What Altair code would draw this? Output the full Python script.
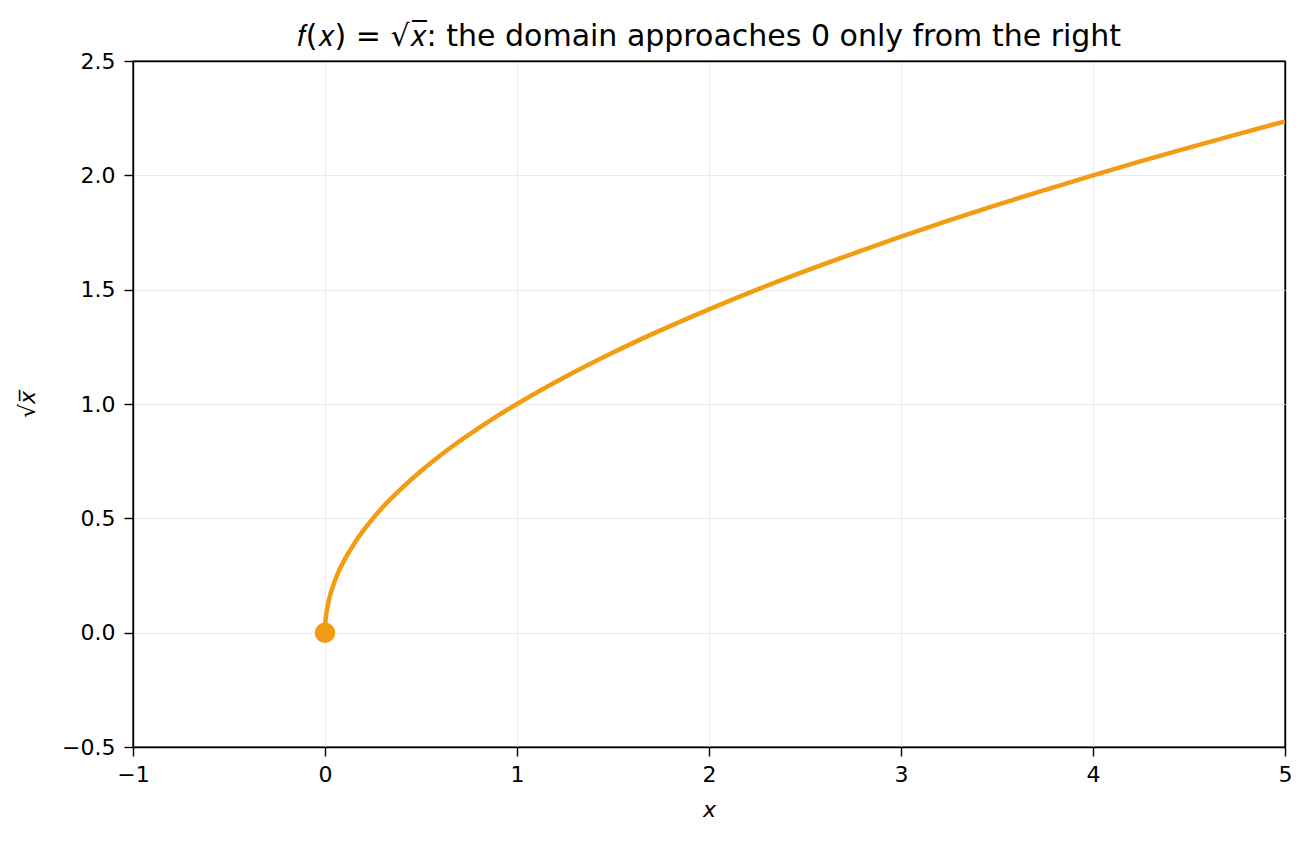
import altair as alt
import pandas as pd

xs = [0.0, 0.002, 0.005, 0.01, 0.02, 0.03, 0.05, 0.07, 0.1, 0.15, 0.2, 0.25, 0.3, 0.4, 0.5, 0.6, 0.7, 0.8, 0.9,
      1.0, 1.25, 1.5, 1.75, 2.0, 2.25, 2.5, 2.75, 3.0, 3.25, 3.5, 3.75, 4.0, 4.25, 4.5, 4.75, 5.0]
ys = [0.0, 0.045, 0.071, 0.1, 0.141, 0.173, 0.224, 0.265, 0.316, 0.387, 0.447, 0.5, 0.548, 0.632, 0.707, 0.775,
      0.837, 0.894, 0.949, 1.0, 1.118, 1.225, 1.323, 1.414, 1.5, 1.581, 1.658, 1.732, 1.803, 1.871, 1.936,
      2.0, 2.062, 2.121, 2.179, 2.236]
pt_x = [0.0]
pt_y = [0.0]

curve = pd.DataFrame({"x": xs, "y": ys})
pt = pd.DataFrame({"x": pt_x, "y": pt_y})

color = "#f39c12"
font = "DejaVu Sans"

xscale = alt.Scale(domain=[-1, 5], nice=False, zero=False)
yscale = alt.Scale(domain=[-0.5, 2.5], nice=False, zero=False)

xaxis = alt.Axis(
    title="x", titleFontStyle="italic", titleFontWeight="normal", titleFontSize=22, titleColor="black",
    values=[-1, 0, 1, 2, 3, 4, 5],
    labelExpr="datum.value < 0 ? '\u2212' + format(-datum.value, 'd') : format(datum.value, 'd')",
    labelFontSize=22, labelColor="black", labelPadding=8, labelFlush=False, labelOverlap=False,
    domainColor="black", tickColor="black", tickSize=9, tickWidth=1.4, domainWidth=1.4,
    gridColor={"condition": {"test": "datum.value >= 5", "value": "black"}, "value": "#e8e8e8"},
    gridWidth={"condition": {"test": "datum.value >= 5", "value": 1.4}, "value": 0.9},
    titlePadding=14,
)
yaxis = alt.Axis(
    title="\u221ax\u0305", titleFontStyle="italic", titleFontWeight="normal", titleFontSize=22, titleColor="black",
    values=[-0.5, 0, 0.5, 1, 1.5, 2, 2.5],
    labelExpr="datum.value < 0 ? '\u2212' + format(-datum.value, '.1f') : format(datum.value, '.1f')",
    labelFontSize=22, labelColor="black", labelPadding=9, labelFlush=False, labelOverlap=False,
    domainColor="black", tickColor="black", tickSize=9, tickWidth=1.4, domainWidth=1.4,
    gridColor={"condition": {"test": "datum.value >= 2.5", "value": "black"}, "value": "#e8e8e8"},
    gridWidth={"condition": {"test": "datum.value >= 2.5", "value": 1.4}, "value": 0.9},
    titlePadding=22,
)

line = alt.Chart(curve).mark_line(color=color, strokeWidth=4.5, interpolate="monotone", clip=True).encode(
    x=alt.X("x:Q", scale=xscale, axis=xaxis),
    y=alt.Y("y:Q", scale=yscale, axis=yaxis),
)
dot = alt.Chart(pt).mark_circle(color=color, size=420, opacity=1).encode(
    x=alt.X("x:Q", scale=xscale),
    y=alt.Y("y:Q", scale=yscale),
)

chart = (line + dot).properties(
    width=1152, height=686,
    title=alt.TitleParams("\U0001D453(\U0001D465) = \u221a\U0001D465\u0305: the domain approaches 0 only from the right",
                          fontSize=30, fontWeight="normal", font=font, color="black", offset=6, dy=8),
    autosize=alt.AutoSizeParams(type="none"),
    padding={"left": 125, "top": 53, "right": 10, "bottom": 86},
).configure(font=font).configure_view(stroke="black", strokeWidth=1.4)

chart.save("out.html", embed_options={"renderer": "svg", "actions": False})
